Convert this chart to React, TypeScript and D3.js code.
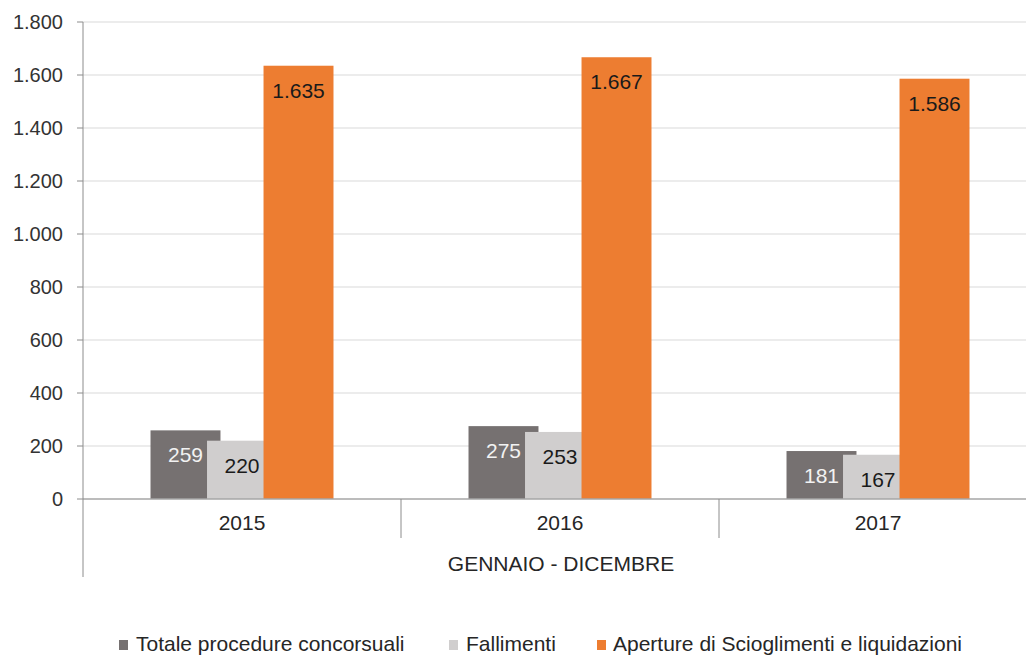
import React, { useEffect } from "react";
import * as d3 from "d3";

const years = ["2015", "2016", "2017"];
const seriesNames = ["Totale procedure concorsuali", "Fallimenti", "Aperture di Scioglimenti e liquidazioni"];
const totale = [259, 275, 181];
const fallimenti = [220, 253, 167];
const aperture = [1635, 1667, 1586];
const yTicks = [0, 200, 400, 600, 800, 1000, 1200, 1400, 1600, 1800];
const axisTitle = "GENNAIO - DICEMBRE";
const colors = ["#767171", "#d0cece", "#ed7d31"];
const labelColors = ["#f2f2f2", "#1a1a1a", "#1a1a1a"];

const W = 1026;
const H = 657;
const left = 83;
const right = 1037;
const top = 22;
const bottom = 499;

const fmt = (v: number) => {
  const s = String(v);
  return s.length > 3 ? s.slice(0, s.length - 3) + "." + s.slice(-3) : s;
};

export default function App() {
  useEffect(() => {
    document.body.style.margin = "0";
  }, []);

  const series = [totale, fallimenti, aperture];
  const x = d3.scaleBand<string>().domain(years).range([left, right]).paddingInner(0).paddingOuter(0);
  const y = d3.scaleLinear().domain([0, 1800]).range([bottom, top]);
  const bw = x.bandwidth();
  const barW = bw * 0.22;
  const step = bw * 0.1777;
  const font = "'Liberation Sans', Arial, sans-serif";

  const legendItems = [
    { x: 119, tx: 136 },
    { x: 449, tx: 466 },
    { x: 597, tx: 613 },
  ];

  return (
    <svg width={W} height={H} style={{ display: "block", position: "absolute", left: 0, top: 0, background: "#fff" }} fontFamily={font}>
      {yTicks.map((t) => (
        <g key={t}>
          {t !== 0 && <line x1={left} x2={right} y1={y(t)} y2={y(t)} stroke="#d9d9d9" strokeWidth={1} />}
          <line x1={left - 6} x2={left} y1={y(t)} y2={y(t)} stroke="#8c8c8c" strokeWidth={1} />
          <text x={63} y={y(t)} dy="0.35em" textAnchor="end" fontSize={20} fill="#333">
            {fmt(t)}
          </text>
        </g>
      ))}
      {series.map((vals, si) =>
        years.map((yr, i) => {
          const cx = (x(yr) as number) + bw / 2 + (si - 1) * step;
          return (
            <rect key={si + "-" + yr} x={cx - barW / 2} y={y(vals[i])} width={barW} height={bottom - y(vals[i])} fill={colors[si]} />
          );
        })
      )}
      {series.map((vals, si) =>
        years.map((yr, i) => {
          const cx = (x(yr) as number) + bw / 2 + (si - 1) * step;
          return (
            <text key={"l" + si + "-" + yr} x={cx} y={y(vals[i]) + 32} textAnchor="middle" fontSize={21} fill={labelColors[si]}>
              {fmt(vals[i])}
            </text>
          );
        })
      )}
      <line x1={left} x2={right} y1={bottom} y2={bottom} stroke="#a6a6a6" strokeWidth={1.3} />
      <line x1={left} x2={left} y1={top} y2={577} stroke="#8c8c8c" strokeWidth={1} />
      {years.slice(1).map((yr) => (
        <line key={"d" + yr} x1={x(yr) as number} x2={x(yr) as number} y1={bottom} y2={538} stroke="#8c8c8c" strokeWidth={1} />
      ))}
      {years.map((yr) => (
        <text key={"c" + yr} x={(x(yr) as number) + bw / 2} y={530} textAnchor="middle" fontSize={21} fill="#262626">
          {yr}
        </text>
      ))}
      <text x={561} y={571} textAnchor="middle" fontSize={21} fill="#262626">
        {axisTitle}
      </text>
      {seriesNames.map((n, i) => (
        <g key={n}>
          <rect x={legendItems[i].x} y={640} width={9} height={10} fill={colors[i]} />
          <text x={legendItems[i].tx} y={651} fontSize={21} fill="#262626">
            {n}
          </text>
        </g>
      ))}
    </svg>
  );
}
